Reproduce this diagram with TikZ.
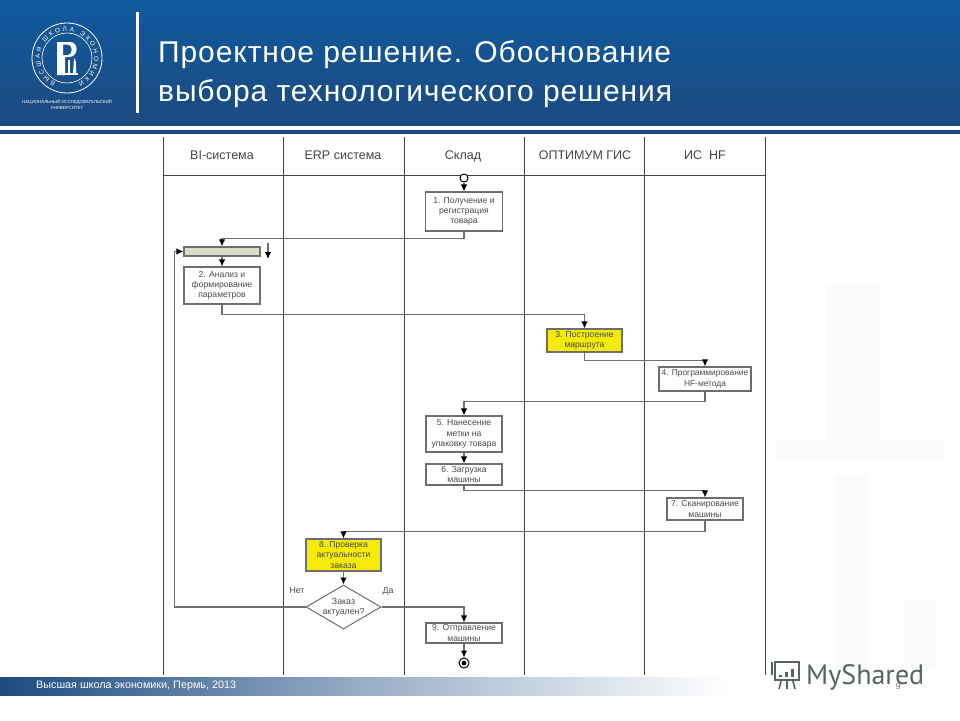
\documentclass[tikz,border=0pt]{standalone}
\usepackage{fontspec}
\usepackage{tikz}
\usetikzlibrary{shapes.geometric, arrows.meta, decorations.text}
\setmainfont{Liberation Sans}
\newfontfamily\titlefont[LetterSpace=3]{Liberation Sans}
\newfontfamily\sharedfont{PT Sans}
\definecolor{headblue}{HTML}{0F5A9E}
\definecolor{headdark}{HTML}{1C4A80}
\definecolor{lanegray}{HTML}{444444}
\definecolor{boxgray}{HTML}{6E6E6E}
\definecolor{textgray}{HTML}{4A4A4A}
\definecolor{markyellow}{HTML}{F5EA0A}
\definecolor{barfill}{HTML}{D9DCC8}
\definecolor{sharedgray}{HTML}{56665F}
\definecolor{faintgray}{HTML}{FBFBFB}
\tikzset{
    lane/.style={draw=lanegray, line width=1pt},
    lanehead/.style={anchor=base, inner sep=0pt, font=\fontsize{12.5}{14}\selectfont, text=lanegray},
    stepbox/.style={draw=boxgray, line width=1.1pt, fill=white, inner sep=0pt, align=center,
        font=\fontsize{8.6}{10.2}\selectfont, text=textgray},
    yellowbox/.style={stepbox, fill=markyellow},
    flow/.style={draw=boxgray, line width=1.2pt, -{Latex[black,length=7pt,width=6.5pt]}},
    notelabel/.style={font=\fontsize{8.8}{10}\selectfont, text=textgray},
    titleline/.style={anchor=base west, inner sep=0pt, text=white, font=\titlefont\fontsize{30}{32}\selectfont}
}
\begin{document}
\begin{tikzpicture}[x=1pt, y=-1pt]
    \useasboundingbox (0,0) rectangle (960,720);
    \fill[white] (0,0) rectangle (960,720);
    % faint background
    \fill[faintgray] (826,286) rectangle (880,440);
    \fill[faintgray] (835,475) rectangle (868,670);
    \fill[faintgray] (775,440) rectangle (945,458);
    \fill[faintgray] (905,600) rectangle (935,670);
    % header
    \shade[top color=headblue, bottom color=headdark] (0,0) rectangle (960,125);
    \fill[headdark] (0,130) rectangle (960,134);
    \fill[white] (136,12) rectangle (138.5,113);
    \node[titleline] (title1) at (158,62) {Проектное решение. Обоснование};
    \node[titleline] (title2) at (158,101) {выбора технологического решения};
    % logo
    \draw[white, line width=0.8pt] (67,58) circle (35);
    \draw[white, line width=0.6pt] (67,58) circle (25);
    \path[postaction={decorate, decoration={text along path, text align=fit to path,
        text={|\fontsize{6.4}{7}\selectfont\color{white}|ВЫСШАЯ ШКОЛА ЭКОНОМИКИ}}}]
        (67,58) ++(115:27) arc[start angle=115, end angle=425, radius=27];
    \fill[white, even odd rule] (57,42) -- (70,42) .. controls (79,42) and (79,57) .. (69,57) -- (65,57) -- (65,75) -- (57,75) -- cycle
        (63,44.5) -- (63,55) -- (68,55) .. controls (73,55) and (73,44.5) .. (68,44.5) -- cycle;
    \fill[white] (65,73) -- (78,73) -- (78,75) -- (65,75) -- cycle;
    \fill[white] (68,60) rectangle (70,74);
    \fill[white] (74,58) -- (76,62) -- (76,74) -- (73,74) -- cycle;
    \node[text=white, font=\fontsize{4.4}{6}\selectfont, align=center] (logotext) at (67,105) {НАЦИОНАЛЬНЫЙ ИССЛЕДОВАТЕЛЬСКИЙ\\УНИВЕРСИТЕТ};
    % lanes
    \draw[lane] (163,137) -- (163,675);
    \draw[lane] (283,137) -- (283,675);
    \draw[lane] (404,137) -- (404,675);
    \draw[lane] (524,137) -- (524,675);
    \draw[lane] (644,137) -- (644,675);
    \draw[lane] (765,137) -- (765,675);
    \draw[lane] (163,175) -- (765,175);
    \node[lanehead] (headbi) at (222,159) {BI-система};
    \node[lanehead] (headerp) at (343,159) {ERP система};
    \node[lanehead] (headsklad) at (463,159) {Склад};
    \node[lanehead] (headopt) at (585,159) {ОПТИМУМ ГИС};
    \node[lanehead] (headhf) at (705,159) {ИС\hspace{7pt}HF};
    % steps
    \node[draw=black, line width=1pt, circle, fill=white, minimum size=8pt, inner sep=0pt] (start) at (464,178) {};
    \node[stepbox, minimum width=77, minimum height=39] (box1) at (464,211.5) {1. Получение и\\регистрация\\товара};
    \node[stepbox, fill=barfill, minimum width=76, minimum height=9] (bar) at (222,251.5) {};
    \node[stepbox, minimum width=76, minimum height=37] (box2) at (222,285.5) {2. Анализ и\\формирование\\параметров};
    \node[yellowbox, minimum width=75, minimum height=23] (box3) at (584.5,340.5) {3. Построение\\маршрута};
    \node[stepbox, minimum width=92, minimum height=24, font=\fontsize{8.4}{10.2}\selectfont] (box4) at (705,379) {4. Программирование\\HF-метода};
    \node[stepbox, minimum width=76, minimum height=36] (box5) at (464,434) {5. Нанесение\\метки на\\упаковку товара};
    \node[stepbox, minimum width=76, minimum height=21] (box6) at (464,474.5) {6. Загрузка\\машины};
    \node[stepbox, minimum width=76, minimum height=22] (box7) at (705,509) {7. Сканирование\\машины};
    \node[yellowbox, minimum width=75, minimum height=32] (box8) at (343.5,555) {8. Проверка\\актуальности\\заказа};
    \node[stepbox, diamond, aspect=1.68, minimum width=75, minimum height=44, line width=1pt] (check) at (343.5,607) {};
    \node[font=\fontsize{8.8}{10.2}\selectfont, text=textgray, align=center] (checktext) at (343.5,607) {Заказ\\актуален?};
    \node[stepbox, minimum width=76, minimum height=20] (box9) at (464,633) {9. Отправление\\машины};
    \node[draw=black, line width=1pt, circle, fill=white, minimum size=10pt, inner sep=0pt] (finish) at (464,663) {};
    \fill[black] (finish) circle (2.4);
    \node[notelabel] (no) at (297,591) {Нет};
    \node[notelabel] (yes) at (388,591) {Да};
    % connectors
    \draw[flow] (start) -- (box1);
    \draw[flow] (box1.south) -- ++(0,7) -| (bar.north);
    \draw[flow] (bar) -- (box2);
    \coordinate (barmarktop) at (268,243);
    \coordinate (barmarkend) at (268,259);
    \draw[flow] (barmarktop) -- (barmarkend);
    \draw[flow] (box2.south) -- ++(0,10) -| (box3.north);
    \draw[flow] (box3.south) -- ++(0,8) -| (box4.north);
    \draw[flow] (box4.south) -- ++(0,10) -| (box5.north);
    \draw[flow] (box5) -- (box6);
    \draw[flow] (box6.south) -- ++(0,5) -| (box7.north);
    \draw[flow] (box7.south) -- ++(0,11) -| (box8.north);
    \draw[flow] (box8) -- (check);
    \draw[flow] (check.east) -| (box9.north);
    \draw[flow] (check.west) -- ++(-131,0) |- (bar.west);
    \draw[flow] (box9) -- (finish);
    % footer
    \shade[left color=headdark, right color=white, middle color=headdark!45!white] (0,677) rectangle (730,695);
    \node[anchor=base west, inner sep=0pt, text=white, font=\fontsize{10.8}{12}\selectfont] (foot) at (36,688) {Высшая школа экономики, Пермь, 2013};
    % mark
    \begin{scope}[draw=sharedgray, line width=1.6pt]
        \draw (775,662) -- (799,662) -- (799,680) -- (775,680) -- cycle;
        \draw (772,662) -- (772,675);
        \draw (779,689) -- (781,681) (787,689) -- (787,681) (795,689) -- (793,681);
    \end{scope}
    \fill[sharedgray] (779,675) rectangle (782,677);
    \fill[sharedgray] (785,672) rectangle (788,677);
    \fill[sharedgray] (791,669) rectangle (794,677);
    \node[anchor=base west, inner sep=0pt, text=sharedgray, font=\sharedfont\fontsize{28}{30}\selectfont] (shared) at (806,684) {MyShared};
    \node[text=gray, font=\fontsize{9}{10}\selectfont] (pagenum) at (898,686) {9};
\end{tikzpicture}
\end{document}
